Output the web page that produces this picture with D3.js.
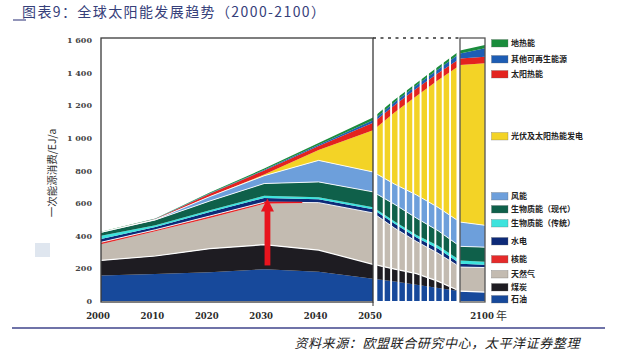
<!DOCTYPE html>
<html><head><meta charset="utf-8">
<script src="https://cdn.jsdelivr.net/npm/d3@7"></script>
<style>
html,body{margin:0;padding:0;background:#fff;}
svg{display:block;}
</style></head>
<body><svg id="c" width="617" height="359"></svg>
<script>
// ---------------- DATA ----------------
const years = [2000, 2010, 2020, 2030, 2040, 2050, 2060, 2070, 2080, 2090, 2100];
const seriesKeys = ["oil","coal","gas","nuclear","hydro","bioTrad","bioModern","wind","pv","solarHeat","otherRen","geothermal"];
const seriesNames = ["石油","煤炭","天然气","核能","水电","生物质能（传统）","生物质能（现代）","风能","光伏及太阳热能发电","太阳热能","其他可再生能源","地热能"];
const seriesColors = ["#17499b","#1e1c22","#c3bbb1","#e52a2a","#0d2a78","#3ee3dd","#0f604a","#6d9fdb","#f3d326","#e3231f","#1d5db4","#1a8c3c"];
// primary energy by source, EJ/a
const oil        = [157,165,177,195,180,137,120,100, 80, 60, 55];
const coal       = [ 92,111,144,150,132, 88, 75, 68, 40,  0,  0];
const gas        = [ 99,151,188,251,291,315,251,197,172,148,150];
const nuclear    = [ 12, 10, 12, 10,  0,  0,  0,  0,  0,  0,  0];
const hydro      = [ 20, 17, 25, 26, 21, 22, 28, 25, 29, 21, 17];
const bioTrad    = [ 20, 10, 10, 13, 12, 13, 14, 15, 18, 20, 18];
const bioModern  = [ 21, 33, 57, 75, 94, 94,104,103, 91, 86, 90];
const wind       = [  0,  2, 27, 48,132,122,124,142,143,149,134];
const pv         = [  0,  0,  0,  7, 63,256,441,607,782,962,993];
const solarHeat  = [  0,  4, 18, 25, 25, 46, 45, 45, 42, 41, 40];
const otherRen   = [  1,  1,  2,  4,  8, 15, 18, 20, 24, 31, 52];
const geothermal = [  3,  2,  5,  8, 10, 17, 15, 15, 16, 17, 20];
const seriesValues = [oil,coal,gas,nuclear,hydro,bioTrad,bioModern,wind,pv,solarHeat,otherRen,geothermal];

const yTickValues = [0,200,400,600,800,1000,1200,1400,1600];
const yTickLabels = ["0","200","400","600","800","1 000","1 200","1 400","1 600"];
const xTickValues = [2000,2010,2020,2030,2040,2050,2100];
const xTickLabels = ["2000","2010","2020","2030","2040","2050","2100"];

// legend order (top to bottom) and layout
const legendOrder = ["geothermal","otherRen","solarHeat","pv","wind","bioModern","bioTrad","hydro","nuclear","gas","coal","oil"];
const legendY = [43,59,74,136,196,209,223,241,259,274,287,299];

// annotation: peak arrow
const arrowYear = 2030.6, arrowFrom = 218, arrowTo = 628;
const peakLine = {from: 2030, to: 2037, value: 605};

// ---------------- CHART ----------------
const svg = d3.select("#c");
const x = d3.scaleLinear().domain([2000, 2050, 2090, 2100]).range([101, 373, 460, 485]);
const y = d3.scaleLinear().domain([0, 1600]).range([301, 40]);
const frameTop = 38, frameBottom = 302;

const table = years.map((yr, i) => {
  const o = {year: yr};
  seriesKeys.forEach((k, j) => o[k] = seriesValues[j][i]);
  return o;
});
const stacked = d3.stack().keys(seriesKeys)(table);
const colorOf = k => seriesColors[seriesKeys.indexOf(k)];
const area = d3.area().x(d => x(d.data.year)).y0(d => y(d[0])).y1(d => y(d[1]));
const topLine = d3.line().x(d => x(d.data.year)).y(d => y(d[1]));

const defs = svg.append("defs");
defs.append("clipPath").attr("id","clipA").append("rect")
  .attr("x", x(2000)).attr("y", 0).attr("width", x(2050) - x(2000)).attr("height", frameBottom);
defs.append("clipPath").attr("id","clipC").append("rect")
  .attr("x", x(2090)).attr("y", 0).attr("width", x(2100) - x(2090)).attr("height", frameBottom);
const clipB = defs.append("clipPath").attr("id","clipB");
const nStrips = 11, gap = 1.9;
const sx0 = x(2050) + 4.3, sx1 = x(2090) - 3.5;
const pitch = (sx1 - sx0 + gap) / nStrips;
d3.range(nStrips).forEach(i => {
  clipB.append("rect").attr("x", sx0 + i * pitch).attr("y", 0)
    .attr("width", pitch - gap).attr("height", frameBottom);
});

const sepKeys = ["coal","nuclear","bioModern","wind"];
["clipA","clipB","clipC"].forEach(cid => {
  const g = svg.append("g").attr("clip-path", `url(#${cid})`);
  g.selectAll("path.layer").data(stacked).join("path")
    .attr("class","layer")
    .attr("fill", d => colorOf(d.key))
    .attr("d", area);
  g.selectAll("path.sep").data(stacked.filter(s => sepKeys.includes(s.key))).join("path")
    .attr("class","sep")
    .attr("fill","none").attr("stroke","#fff").attr("stroke-width", d => d.key === "coal" ? 1.2 : 0.9)
    .attr("d", topLine);
});

// frames
svg.append("rect").attr("x", x(2000)).attr("y", frameTop)
  .attr("width", x(2050) - x(2000)).attr("height", frameBottom - frameTop)
  .attr("fill","none").attr("stroke","#3a3a3a").attr("stroke-width",1.3);
svg.append("rect").attr("x", x(2090)).attr("y", frameTop)
  .attr("width", x(2100) - x(2090)).attr("height", frameBottom - frameTop)
  .attr("fill","none").attr("stroke","#555").attr("stroke-width",1.3);
svg.append("line").attr("x1", x(2050)).attr("x2", x(2090)).attr("y1", frameTop).attr("y2", frameTop)
  .attr("stroke","#333").attr("stroke-width",1.5).attr("stroke-dasharray","3,4.5");
svg.append("line").attr("x1", x(2050)).attr("x2", x(2050)).attr("y1", frameBottom).attr("y2", frameBottom + 4)
  .attr("stroke","#333").attr("stroke-width",1);

// annotations
svg.append("line").attr("x1", x(peakLine.from)).attr("x2", x(peakLine.to))
  .attr("y1", y(peakLine.value)).attr("y2", y(peakLine.value))
  .attr("stroke","#e8141e").attr("stroke-width",1.2);
const ax = x(arrowYear), tipY = y(arrowTo), headH = 13, headW = 13;
svg.append("rect").attr("x", ax - 2.9).attr("y", tipY + headH - 1).attr("width", 5.8)
  .attr("height", y(arrowFrom) - (tipY + headH - 1)).attr("fill","#e8141e");
svg.append("path").attr("d", `M${ax},${tipY} L${ax + headW/2},${tipY + headH} L${ax - headW/2},${tipY + headH} Z`)
  .attr("fill","#e8141e");

// y axis labels
svg.append("g").selectAll("text").data(yTickValues).join("text")
  .attr("x", 92).attr("y", d => y(d) + 3)
  .attr("text-anchor","end")
  .style("font-family","'DejaVu Serif', serif").style("font-size","8px").style("font-weight","bold")
  .attr("fill","#444")
  .text((d, i) => yTickLabels[i]);

// x axis labels
svg.append("g").selectAll("text").data(xTickValues).join("text")
  .attr("x", d => x(d) - 3).attr("y", 319)
  .attr("text-anchor","middle")
  .style("font-family","'DejaVu Serif', serif").style("font-size","8.5px").style("font-weight","bold")
  .attr("fill","#2a2a2a")
  .text((d, i) => xTickLabels[i]);
svg.append("text").attr("x", 496).attr("y", 320)
  .style("font-family","'Noto Sans CJK SC'").style("font-size","11px").attr("fill","#333").text("年");

// y axis title
svg.append("text").attr("transform","translate(56,173) rotate(-90)")
  .attr("text-anchor","middle")
  .style("font-family","'Noto Sans CJK SC'").style("font-size","10.5px").attr("fill","#333")
  .text("一次能源消费/EJ/a");
svg.append("rect").attr("x",35).attr("y",243).attr("width",15).attr("height",14).attr("fill","#dfe6ef");

// legend
const lg = svg.append("g");
legendOrder.forEach((k, i) => {
  const j = seriesKeys.indexOf(k);
  lg.append("rect").attr("x", 491.5).attr("y", legendY[i] - 3.5).attr("width", 16.5).attr("height", 7.5)
    .attr("fill", seriesColors[j]).attr("stroke", "#666").attr("stroke-width", 0.3);
  lg.append("text").attr("x", 511).attr("y", legendY[i] + 3)
    .style("font-family","'Noto Sans CJK SC'").style("font-size","8px").style("font-weight","bold")
    .attr("fill","#222").text(seriesNames[j]);
});

// title and source
svg.append("line").attr("x1",13).attr("x2",26).attr("y1",20).attr("y2",20).attr("stroke","#4a4f8a").attr("stroke-width",1.2);
svg.append("text").attr("x", 22).attr("y", 17)
  .style("font-family","'Noto Sans CJK SC'").style("font-size","14px").style("letter-spacing","1.4px")
  .attr("fill","#36407a").text("图表9：全球太阳能发展趋势（2000-2100）");
svg.append("line").attr("x1",12).attr("x2",605).attr("y1",328).attr("y2",328).attr("stroke","#6f73a8").attr("stroke-width",2);
svg.append("text").attr("x", 580).attr("y", 348).attr("text-anchor","end")
  .style("font-family","'Noto Sans CJK SC'").style("font-size","13px").style("font-style","italic")
  .style("letter-spacing","0.6px")
  .attr("fill","#222").text("资料来源：欧盟联合研究中心，太平洋证券整理");
</script>
</body></html>
